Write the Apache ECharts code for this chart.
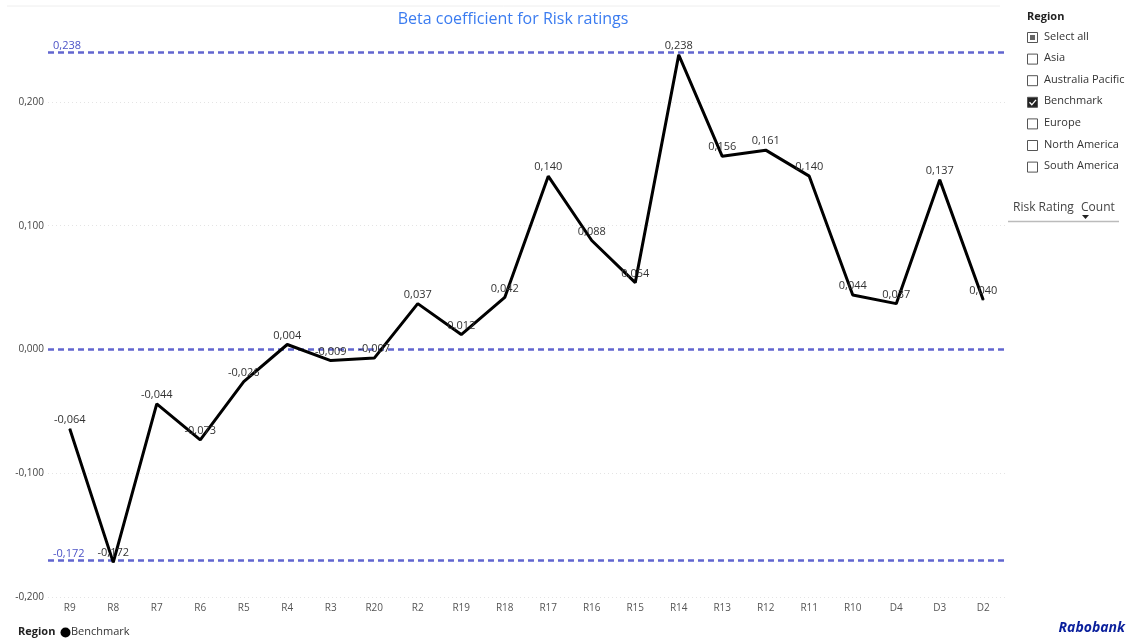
<!DOCTYPE html>
<html>
<head>
<meta charset="utf-8">
<script src="https://cdn.jsdelivr.net/npm/echarts@6/dist/echarts.min.js"></script>
<style>
  html, body { margin: 0; padding: 0; background: #fff; }
  #chart { width: 1137px; height: 640px; }
</style>
</head>
<body>
<div id="chart"></div>
<script>
// Risk rating categories along the x axis
const categories = ['R9','R8','R7','R6','R5','R4','R3','R20','R2','R19','R18','R17','R16','R15','R14','R13','R12','R11','R10','D4','D3','D2'];
// Beta coefficient for the Benchmark region
const benchmark = [-0.064,-0.172,-0.044,-0.073,-0.026,0.004,-0.009,-0.007,0.037,0.012,0.042,0.140,0.088,0.054,0.238,0.156,0.161,0.140,0.044,0.037,0.137,0.040];
// Reference lines: max, zero, min
const refLines = [0.238, 0, -0.172];
// Faint horizontal gridlines
const gridValues = [-0.2, -0.1, 0.1, 0.2];
// Slicer entries
const regions = ['Select all','Asia','Australia Pacific','Benchmark','Europe','North America','South America'];

const FONT = 'Open Sans, Noto Sans, sans-serif';
const fmt = v => v.toFixed(3).replace('.', ',');

const chart = echarts.init(document.getElementById('chart'), null, { renderer: 'canvas' });

const graphics = [
  { type: 'line', shape: { x1: 7, y1: 6, x2: 1000, y2: 6 }, style: { stroke: '#eeeeee', lineWidth: 1 } },
  { type: 'text', left: 1027, top: 11, style: { text: 'Region', font: 'bold 11px ' + FONT, fill: '#222' } }
];
regions.forEach((r, i) => {
  const y = 32 + i * 21.6;
  graphics.push({ type: 'rect', shape: { x: 1027.5, y: y + 0.5, width: 10, height: 10 }, style: { fill: i === 3 ? '#222' : '#fff', stroke: '#555', lineWidth: 1 } });
  if (i === 0) graphics.push({ type: 'rect', shape: { x: 1030, y: y + 3, width: 5, height: 5 }, style: { fill: '#666' } });
  if (i === 3) graphics.push({ type: 'polyline', shape: { points: [[1029.5, y + 5.5], [1031.8, y + 8], [1036, y + 3]] }, style: { stroke: '#fff', lineWidth: 1.3, fill: null } });
  graphics.push({ type: 'text', left: 1044, top: y - 1, style: { text: r, font: '11px ' + FONT, fill: '#333' } });
});
graphics.push(
  { type: 'text', left: 1013, top: 202, style: { text: 'Risk Rating', font: '12px ' + FONT, fill: '#444' } },
  { type: 'text', left: 1081, top: 202, style: { text: 'Count', font: '12px ' + FONT, fill: '#444' } },
  { type: 'polygon', shape: { points: [[1082, 215], [1089, 215], [1085.5, 219]] }, style: { fill: '#222' } },
  { type: 'line', shape: { x1: 1008, y1: 221.5, x2: 1119, y2: 221.5 }, style: { stroke: '#bbb', lineWidth: 1.5 } },
  { type: 'text', left: 18, top: 626, style: { text: 'Region', font: 'bold 11px ' + FONT, fill: '#222' } },
  { type: 'circle', shape: { cx: 65.5, cy: 632.5, r: 5 }, style: { fill: '#000' } },
  { type: 'text', left: 71, top: 626, style: { text: 'Benchmark', font: '11px ' + FONT, fill: '#333' } },
  { type: 'text', right: 12, top: 621, style: { text: 'Rabobank', font: 'italic bold 14px ' + FONT, fill: '#0a1f9c' } }
);

const markData = gridValues.map(v => ({
  yAxis: v,
  lineStyle: { color: '#e4e4e4', type: [1, 3], width: 1 },
  label: { show: false }
})).concat(refLines.map(v => ({
  yAxis: v,
  lineStyle: { color: '#6166cf', type: [6, 4], width: 2.5 },
  label: v === 0 ? { show: false } : {
    show: true, position: 'insideStartTop', formatter: fmt(v),
    color: '#4b52c6', fontSize: 11, fontFamily: FONT, distance: [5, 1]
  }
})));

chart.setOption({
  animation: false,
  textStyle: { fontFamily: FONT },
  title: {
    text: 'Beta coefficient for Risk ratings',
    left: 508, top: 6, textAlign: 'center',
    textStyle: { color: '#3b7cf0', fontSize: 16, fontWeight: 'normal', fontFamily: FONT }
  },
  grid: { left: 48, right: 132, top: 40, bottom: 43, containLabel: false },
  xAxis: {
    type: 'category',
    data: categories,
    boundaryGap: true,
    axisLine: { show: false },
    axisTick: { show: false },
    axisLabel: { color: '#555', fontSize: 10, margin: 6, interval: 0, fontFamily: FONT }
  },
  yAxis: {
    type: 'value',
    min: -0.2, max: 0.25, interval: 0.1,
    axisLine: { show: false },
    axisTick: { show: false },
    splitLine: { show: false },
    axisLabel: {
      color: '#444', fontSize: 10, margin: 4, showMaxLabel: false, fontFamily: FONT,
      formatter: v => (Math.abs(v * 10 - Math.round(v * 10)) < 1e-6 ? fmt(v) : '')
    }
  },
  series: [{
    type: 'line',
    name: 'Benchmark',
    data: benchmark,
    symbol: 'circle',
    symbolSize: 1,
    showSymbol: true,
    itemStyle: { color: '#000' },
    lineStyle: { color: '#000', width: 3 },
    label: {
      show: true, position: 'top', distance: 3,
      formatter: p => fmt(p.value),
      color: '#333', fontSize: 11, fontFamily: FONT
    },
    labelLayout: { hideOverlap: false },
    markLine: {
      silent: true, symbol: 'none', z: 1,
      data: markData
    },
    z: 3
  }],
  graphic: graphics
});
</script>
</body>
</html>
